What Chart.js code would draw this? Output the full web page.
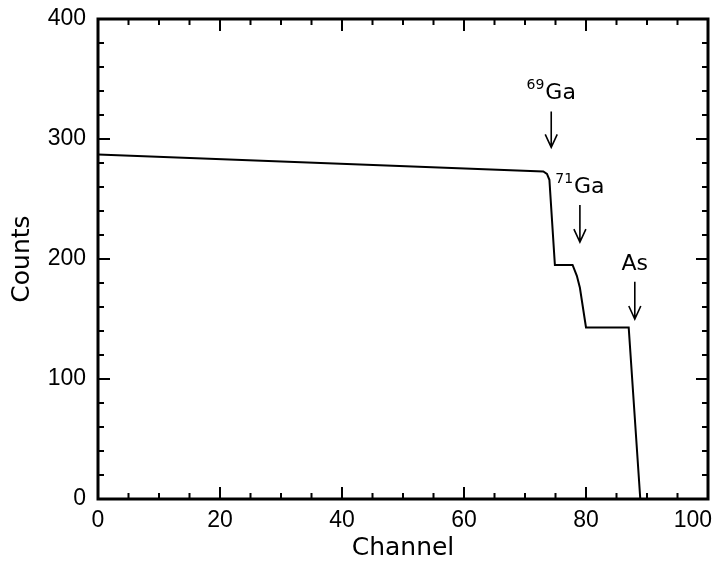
<!DOCTYPE html>
<html>
<head>
<meta charset="utf-8">
<script src="https://cdn.jsdelivr.net/npm/chart.js@4/dist/chart.umd.min.js"></script>
<style>
  html, body { margin: 0; padding: 0; background: #fff; }
  #wrap { width: 714px; height: 563px; }
</style>
</head>
<body>
<div id="wrap"><canvas id="chart"></canvas></div>
<script>
// spectrum
const channels = [0, 73, 73.6, 74, 74.9, 77.8, 78.5, 79, 80, 87, 88.9];
const counts   = [287, 273, 271, 266, 195, 195, 186, 176, 143, 143, 0];

// peak markers: label, arrow x (channel), arrow top / tip (counts)
const markerNames = ['Ga', 'Ga', 'As'];
const markerMass  = ['69', '71', ''];
const markerX     = [74.3, 79.0, 88.0];
const markerTop   = [323, 245, 181];
const markerTip   = [293, 214, 150];

const xTicks = [0, 20, 40, 60, 80, 100];
const yTicks = [0, 100, 200, 300, 400];

const TICK_FONT = '"Liberation Sans", Arial, sans-serif';
const TITLE_FONT = '"DejaVu Sans", sans-serif';

// frame with inward ticks on all four sides, plus arrows and labels
const framePlugin = {
    id: 'frame',
    afterDraw(chart) {
        const ctx = chart.ctx;
        const xs = chart.scales.x, ys = chart.scales.y;
        const a = chart.chartArea;
        ctx.save();
        ctx.strokeStyle = '#000';
        ctx.lineCap = 'butt';

        // minor + major ticks
        ctx.lineWidth = 2;
        ctx.beginPath();
        for (let v = 0; v <= 100; v += 5) {
            const px = xs.getPixelForValue(v);
            const len = v % 20 === 0 ? 12 : 6;
            ctx.moveTo(px, a.bottom); ctx.lineTo(px, a.bottom - len);
            ctx.moveTo(px, a.top); ctx.lineTo(px, a.top + len);
        }
        for (let v = 0; v <= 400; v += 20) {
            const py = ys.getPixelForValue(v);
            const len = v % 100 === 0 ? 12 : 6;
            ctx.moveTo(a.left, py); ctx.lineTo(a.left + len, py);
            ctx.moveTo(a.right, py); ctx.lineTo(a.right - len, py);
        }
        ctx.stroke();

        ctx.lineWidth = 3;
        ctx.strokeRect(a.left, a.top, a.right - a.left, a.bottom - a.top);

        // last x label sits flush with the right edge in the original
        const last = xTicks[xTicks.length - 1];
        ctx.fillStyle = '#000';
        ctx.font = '23px ' + TICK_FONT;
        ctx.textAlign = 'right';
        ctx.textBaseline = 'top';
        ctx.fillText(String(last), xs.getPixelForValue(last) + 4, a.bottom + 10);

        // arrows
        ctx.lineWidth = 1.6;
        for (let i = 0; i < markerX.length; i++) {
            const px = xs.getPixelForValue(markerX[i]);
            const y0 = ys.getPixelForValue(markerTop[i]);
            const y1 = ys.getPixelForValue(markerTip[i]);
            ctx.beginPath();
            ctx.moveTo(px, y0); ctx.lineTo(px, y1);
            ctx.moveTo(px - 6, y1 - 13); ctx.lineTo(px, y1); ctx.lineTo(px + 6, y1 - 13);
            ctx.stroke();

            // label: superscript mass number + element
            ctx.textBaseline = 'alphabetic';
            ctx.textAlign = 'left';
            ctx.font = '22px ' + TITLE_FONT;
            const wName = ctx.measureText(markerNames[i]).width;
            ctx.font = '14px ' + TITLE_FONT;
            const wMass = markerMass[i] ? ctx.measureText(markerMass[i]).width + 1 : 0;
            const left = px - (wName + wMass) / 2;
            const base = y0 - 12;
            if (markerMass[i]) ctx.fillText(markerMass[i], left, base - 10);
            ctx.font = '22px ' + TITLE_FONT;
            ctx.fillText(markerNames[i], left + wMass, base);
        }
        ctx.restore();
    }
};

new Chart(document.getElementById('chart'), {
    type: 'line',
    data: {
        datasets: [{
            data: channels.map((c, i) => ({ x: c, y: counts[i] })),
            borderColor: '#000',
            borderWidth: 2,
            pointRadius: 0,
            tension: 0,
            fill: false
        }]
    },
    options: {
        responsive: true,
        maintainAspectRatio: false,
        animation: false,
        layout: { autoPadding: false, padding: { top: 19, right: 6, left: 0, bottom: 0 } },
        plugins: {
            legend: { display: false },
            tooltip: { enabled: false }
        },
        scales: {
            x: {
                type: 'linear',
                min: 0,
                max: 100,
                afterFit: (scale) => {
                    scale.height = 64;
                    scale.paddingLeft = 0;
                    scale.paddingRight = 0;
                },
                afterBuildTicks: (scale) => { scale.ticks = xTicks.map(v => ({ value: v })); },
                grid: { display: false, drawTicks: false },
                border: { display: false },
                ticks: {
                    color: '#000',
                    font: { family: TICK_FONT, size: 23 },
                    padding: 8,
                    maxRotation: 0,
                    autoSkip: false,
                    // the final label is drawn by the frame plugin
                    callback: (v) => (v === xTicks[xTicks.length - 1] ? '' : v)
                },
                title: {
                    display: true,
                    text: 'Channel',
                    color: '#000',
                    font: { family: TITLE_FONT, size: 25 },
                    padding: { top: 0, bottom: 0 }
                }
            },
            y: {
                type: 'linear',
                min: 0,
                max: 400,
                afterFit: (scale) => {
                    scale.width = 98;
                    scale.paddingTop = 0;
                    scale.paddingBottom = 0;
                },
                afterBuildTicks: (scale) => { scale.ticks = yTicks.map(v => ({ value: v })); },
                grid: { display: false, drawTicks: false },
                border: { display: false },
                ticks: {
                    color: '#000',
                    font: { family: TICK_FONT, size: 23 },
                    padding: 12
                },
                title: {
                    display: true,
                    text: 'Counts',
                    color: '#000',
                    font: { family: TITLE_FONT, size: 25 },
                    padding: { top: 7, bottom: 0 }
                }
            }
        }
    },
    plugins: [framePlugin]
});
</script>
</body>
</html>
